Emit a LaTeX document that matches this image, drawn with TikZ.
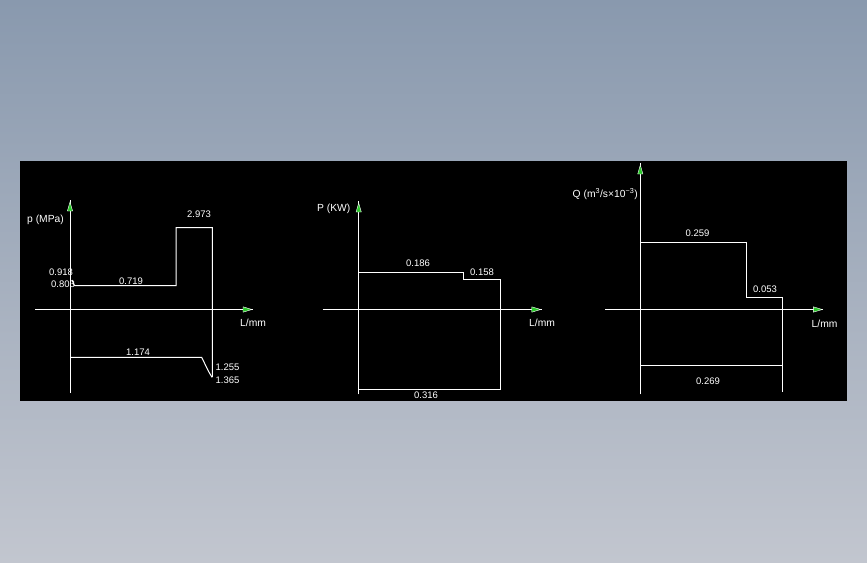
\documentclass[tikz,border=0pt]{standalone}
\usepackage{fontspec}
\setmainfont{Liberation Sans}
\definecolor{bgtop}{RGB}{137,153,174}
\definecolor{bgbot}{RGB}{194,198,207}
\definecolor{agreen}{RGB}{40,200,40}
\tikzset{
  curve/.style={draw=white, line width=1pt},
  axis/.style={draw=white, line width=1pt},
  ahead/.style={fill=agreen, draw=white, line width=0.4pt},
  lbl/.style={text=white, inner sep=0pt, font=\fontsize{9.5}{11}\selectfont},
  ttl/.style={text=white, inner sep=0pt, font=\fontsize{10.3}{12}\selectfont},
}
\begin{document}
\begin{tikzpicture}[x=1pt,y=-1pt]
\useasboundingbox (0,0) rectangle (867,562);
\shade[top color=bgtop, bottom color=bgbot] (0,0) rectangle (867,562);
\fill[black] (20,161) rectangle (847,401);

% ---------- chart 1 ----------
\coordinate (a1t) at (70,200);
\coordinate (a1b) at (70,393);
\coordinate (x1l) at (35,309.5);
\coordinate (x1r) at (253,309.5);
\draw[axis] (a1b) -- (a1t);
\draw[axis] (x1l) -- (x1r);
\draw[ahead] (70,202) -- (72.6,211) -- (67.4,211) -- cycle;
\draw[ahead] (252,309.5) -- (243,312.2) -- (243,306.8) -- cycle;
\draw[curve] (72,280) -- (74.5,285.5) -- (176,285.5) -- (176,227.5) -- (212.3,227.5) -- (212.3,377);
\draw[curve] (70,357.3) -- (201.7,357.3) .. controls (205,364) and (208,371) .. (212,377.3);
\node[ttl, anchor=west] (p1) at (27,220) {p (MPa)};
\node[ttl, anchor=west] (l1) at (240,323) {L/mm};
\node[lbl, anchor=west] (v918) at (49,272.5) {0.918};
\node[lbl, anchor=west] (v803) at (51,284) {0.803};
\node[lbl] (v719) at (131,281) {0.719};
\node[lbl] (v2973) at (199,214.5) {2.973};
\node[lbl] (v1174) at (138,352) {1.174};
\node[lbl, anchor=west] (v1255) at (215.5,367.3) {1.255};
\node[lbl, anchor=west] (v1365) at (215.5,380.7) {1.365};

% ---------- chart 2 ----------
\coordinate (a2t) at (358.7,201);
\coordinate (a2b) at (358.7,394.3);
\coordinate (x2l) at (322.7,309.5);
\coordinate (x2r) at (541.7,309.5);
\draw[axis] (a2b) -- (a2t);
\draw[axis] (x2l) -- (x2r);
\draw[ahead] (358.7,203) -- (361.3,212) -- (356.1,212) -- cycle;
\draw[ahead] (540.7,309.5) -- (531.7,312.2) -- (531.7,306.8) -- cycle;
\draw[curve] (358.7,272.3) -- (463.3,272.3) -- (463.3,279.3) -- (500.3,279.3) -- (500.3,389) -- (358.7,389);
\node[ttl, anchor=west] (p2) at (317,208.5) {P (KW)};
\node[ttl, anchor=west] (l2) at (529,323) {L/mm};
\node[lbl] (v186) at (418,263) {0.186};
\node[lbl] (v158) at (482,272) {0.158};
\node[lbl] (v316) at (426,395.5) {0.316};

% ---------- chart 3 ----------
\coordinate (a3t) at (640.3,163);
\coordinate (a3b) at (640.3,394.3);
\coordinate (x3l) at (605,309.5);
\coordinate (x3r) at (823.3,309.5);
\draw[axis] (a3b) -- (a3t);
\draw[axis] (x3l) -- (x3r);
\draw[ahead] (640.3,165) -- (642.9,174) -- (637.7,174) -- cycle;
\draw[ahead] (822.3,309.5) -- (813.3,312.2) -- (813.3,306.8) -- cycle;
\draw[curve] (640.3,242.3) -- (746.3,242.3) -- (746.3,297) -- (782.3,297) -- (782.3,392.3);
\draw[curve] (640.3,365.3) -- (782.3,365.3);
\node[ttl, anchor=west] (p3) at (572.5,194.3) {Q (m\textsuperscript{3}/s×10\textsuperscript{−3})};
\node[ttl, anchor=west] (l3) at (811.5,323.5) {L/mm};
\node[lbl] (v259) at (697.5,233.5) {0.259};
\node[lbl] (v053) at (765,289.5) {0.053};
\node[lbl] (v269) at (708,381) {0.269};
\end{tikzpicture}
\end{document}
